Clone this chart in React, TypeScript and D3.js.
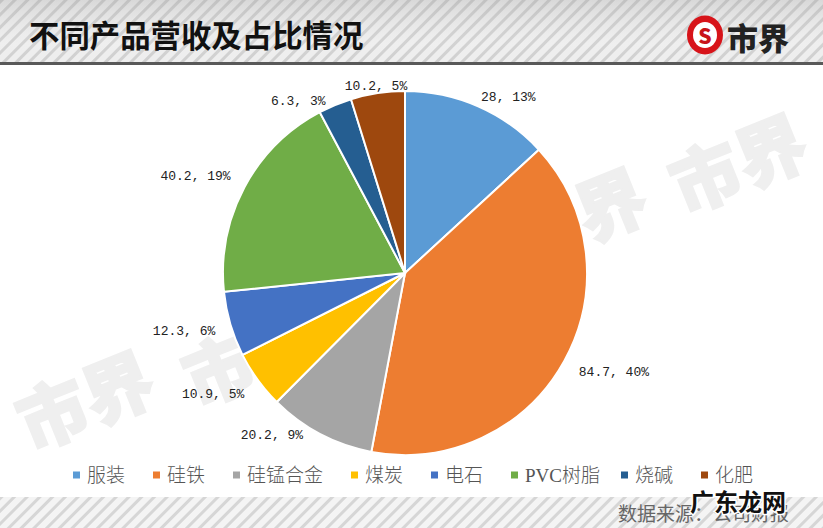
import React from 'react';
import * as d3 from 'd3';

const categories = ['服装', '硅铁', '硅锰合金', '煤炭', '电石', 'PVC树脂', '烧碱', '化肥'];
const revenue = [28, 84.7, 20.2, 10.9, 12.3, 40.2, 6.3, 10.2];
const shares = [13, 40, 9, 5, 6, 19, 3, 5];
const colors = ['#5B9BD5', '#ED7D31', '#A5A5A5', '#FFC000', '#4472C4', '#70AD47', '#255E91', '#9E480E'];

// 标签相对外圈质心的微调
const labelNudge = [[23, 8], [34, 2], [-40, -15], [-30, 4], [-29, 2], [-33, -2], [-30, 13], [1, 11]];
const watermarks = [[84, 397], [250, 353], [355, 290], [462, 258], [577, 214], [737, 160]];

const W = 823;
const H = 528;
const cx = 405;
const cy = 273;
const R = 182;

const cjk = '"Noto Sans CJK SC", sans-serif';

// 图例宽度粗算
const textWidth = (s: string) => d3.sum(Array.from(s), c => (c.charCodeAt(0) > 255 ? 19 : 10));

export default function App() {
  const pie = d3.pie<number>().sort(null).startAngle(0).endAngle(2 * Math.PI);
  const arcs = pie(revenue);
  const arc = d3.arc<d3.PieArcDatum<number>>().innerRadius(0).outerRadius(R);
  const labelArc = d3.arc<d3.PieArcDatum<number>>().innerRadius(200).outerRadius(200);

  let legendX = 76;
  const legend = categories.map(c => {
    const x = legendX;
    legendX += 11 + textWidth(c) + 31;
    return x;
  });

  return (
    <svg width={W} height={H} style={{ position: 'absolute', left: 0, top: 0, background: '#fff' }}>
      <defs>
        <pattern id="stripes" width="9" height="9" patternUnits="userSpaceOnUse" patternTransform="rotate(45)">
          <rect width="9" height="9" fill="#ececec" />
          <rect width="3" height="9" fill="#cbcbcb" />
        </pattern>
        <pattern id="stripesFoot" width="9" height="9" patternUnits="userSpaceOnUse" patternTransform="rotate(45)">
          <rect width="9" height="9" fill="#f4f4f4" />
          <rect width="3" height="9" fill="#d6d6d6" />
        </pattern>
        <linearGradient id="headFade" x1="0" x2="0" y1="0" y2="1">
          <stop offset="0" stopColor="#aaa" stopOpacity="0.3" />
          <stop offset="0.7" stopColor="#fff" stopOpacity="0.15" />
          <stop offset="1" stopColor="#fff" stopOpacity="0.1" />
        </linearGradient>
      </defs>

      {watermarks.map(([x, y], i) => (
        <text key={i} transform={`translate(${x},${y}) rotate(-22)`} textAnchor="middle" dominantBaseline="central"
          fontFamily={cjk} fontWeight={900} fontSize={70} fill="#efefef" stroke="#efefef" strokeWidth={2}>市界</text>
      ))}

      <rect x={0} y={0} width={W} height={62} fill="url(#stripes)" />
      <rect x={0} y={0} width={W} height={62} fill="url(#headFade)" />
      <rect x={0} y={62} width={W} height={3} fill="#595959" />
      <text x={29} y={34} dominantBaseline="central" fontFamily={cjk} fontWeight={700} fontSize={30.4} fill="#111">不同产品营收及占比情况</text>

      <ellipse cx={705} cy={35} rx={18} ry={19.5} fill="#d7141a" />
      <ellipse cx={705} cy={35} rx={12} ry={13} fill="#fff" />
      <text x={705} y={35} textAnchor="middle" dominantBaseline="central" fontFamily={cjk} fontWeight={900} fontSize={21} fill="#c8141a">S</text>
      <text x={758} y={36} textAnchor="middle" dominantBaseline="central" fontFamily={cjk} fontWeight={900} fontSize={31} fill="#222">市界</text>

      <g transform={`translate(${cx},${cy})`}>
        {arcs.map((d, i) => (
          <path key={i} d={arc(d) ?? ''} fill={colors[i]} stroke="#fff" strokeWidth={2} />
        ))}
        {arcs.map((d, i) => {
          const [x, y] = labelArc.centroid(d);
          return (
            <text key={i} x={x + labelNudge[i][0]} y={y + labelNudge[i][1]} textAnchor="middle" dominantBaseline="central"
              fontFamily='"Liberation Mono", monospace' fontSize={13} fill="#222">
              {`${revenue[i]}, ${shares[i]}%`}
            </text>
          );
        })}
      </g>

      {categories.map((c, i) => (
        <g key={c} transform={`translate(${legend[i]},475)`}>
          <rect x={-3} y={-3.5} width={7} height={7} fill={colors[i]} />
          <text x={11} y={0} dominantBaseline="central" fontFamily={`"Liberation Serif", ${cjk}`} fontWeight={300} fontSize={19} fill="#555">{c}</text>
        </g>
      ))}

      <rect x={0} y={497} width={W} height={31} fill="url(#stripesFoot)" />
      <text x={618} y={512} dominantBaseline="central" fontFamily={cjk} fontSize={19} fill="#666">数据来源：公司财报</text>
      <text x={690} y={500} dominantBaseline="central" fontFamily={cjk} fontWeight={700} fontSize={24} fill="#111"
        stroke="#fff" strokeWidth={3} paintOrder="stroke">广东龙网</text>
    </svg>
  );
}
